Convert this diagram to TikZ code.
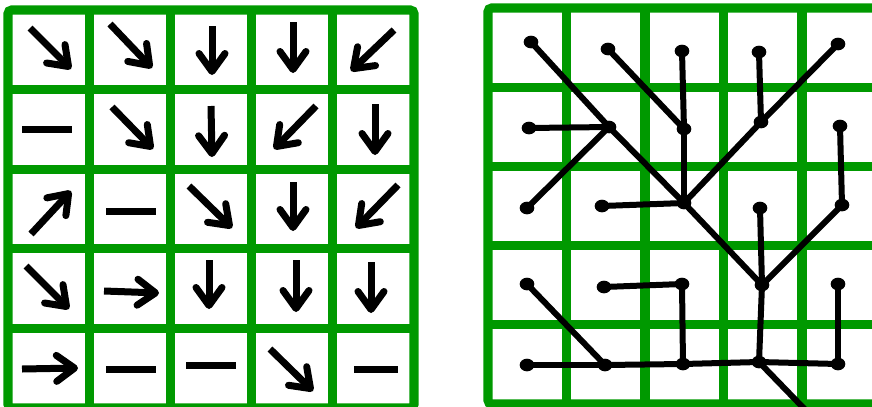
\documentclass[tikz,border=0pt]{standalone}
\usepackage{xcolor}
\usepackage{tikz}
\usetikzlibrary{arrows.meta,shapes.geometric}
\definecolor{leaf}{HTML}{009900}
\definecolor{ink}{HTML}{000000}
\tikzset{
  cellgrid/.style={draw=leaf, line width=2.8mm},
  flow/.style={draw=ink, line width=2.1mm,
               -{Straight Barb[length=5.4mm, width=7.8mm, line width=2.1mm, round]}},
  flat/.style={draw=ink, line width=2.1mm},
  dot/.style={ellipse, fill=ink, inner sep=0pt, minimum width=4.4mm, minimum height=3.8mm},
  edge/.style={draw=ink, line width=1.8mm, line cap=round},
}

\begin{document}
\begin{tikzpicture}[x=0.3mm, y=-0.3mm]

\clip (0,0) rectangle (872,406);

% left grid: one arrow per cell
\foreach \i in {1,...,4} \draw[cellgrid] ({8+81.2*\i},10) -- ({8+81.2*\i},420);
\foreach \j in {1,...,4} \draw[cellgrid] (8,{10+79.6*\j}) -- (414,{10+79.6*\j});
\draw[cellgrid, rounded corners=1.2mm] (8,10) rectangle (414,408);

\foreach \xa/\ya/\xb/\yb in {30/28/71/69, 110/24/152/68, 212/26/212/75, 293/22/293/73, 394/30/351/71,
                             112/107/153/149, 211/106/212/157, 316/106/274/149, 375/104/375/155,
                             31/234/71/191, 189/186/232/228, 293/182/293/231, 398/185/356/228,
                             26/266/69/309, 104/291/159/293, 209/260/209/309, 296/260/296/312, 371/262/371/313,
                             22/369/78/368, 270/349/313/391}
  \draw[flow] (\xa,\ya) -- (\xb,\yb);

\foreach \xa/\ya/\xb/\yb in {22/129/72/129, 106/211/156/211, 106/369/156/369, 186/365/236/365, 354/369/398/369}
  \draw[flat] (\xa,\ya) -- (\xb,\yb);

% right grid: the tree
\draw[cellgrid, rounded corners=1.2mm] (488,8) rectangle (880.5,404);
\foreach \i in {1,...,4} \draw[cellgrid] ({488+78.5*\i},8) -- ({488+78.5*\i},404);
\foreach \j in {1,...,4} \draw[cellgrid] (488,{8+79.2*\j}) -- (880.5,{8+79.2*\j});

\node[dot] (d11) at (531,42) {};
\node[dot] (d12) at (608,49) {};
\node[dot] (d13) at (682,51) {};
\node[dot] (d14) at (759,52) {};
\node[dot] (d15) at (838,44) {};
\node[dot] (d21) at (529,128) {};
\node[dot] (d22) at (609,127) {};
\node[dot] (d23) at (684,129) {};
\node[dot] (d24) at (761,122) {};
\node[dot] (d25) at (840,126) {};
\node[dot] (d31) at (527,208) {};
\node[dot] (d32) at (602,206) {};
\node[dot] (d33) at (684,203) {};
\node[dot] (d34) at (760,208) {};
\node[dot] (d35) at (842,205) {};
\node[dot] (d41) at (527,284) {};
\node[dot] (d42) at (604,287) {};
\node[dot] (d43) at (682,284) {};
\node[dot] (d44) at (762,285) {};
\node[dot] (d45) at (838,284) {};
\node[dot] (d51) at (527,365) {};
\node[dot] (d52) at (605,365) {};
\node[dot] (d53) at (683,364) {};
\node[dot] (d54) at (759,362) {};
\node[dot] (d55) at (838,364) {};
\coordinate (sink) at (820,425);

\foreach \a/\b in {d11/d22, d12/d23, d13/d23, d14/d24, d15/d24,
                   d21/d22, d22/d33, d23/d33, d24/d33, d25/d35,
                   d31/d22, d32/d33, d33/d44, d34/d44, d35/d44,
                   d41/d52, d42/d43, d43/d53, d44/d54, d45/d55,
                   d51/d52, d52/d53, d53/d54, d55/d54}
  \draw[edge] (\a.center) -- (\b.center);
\draw[edge] (d54.center) -- (sink);

\end{tikzpicture}
\end{document}
